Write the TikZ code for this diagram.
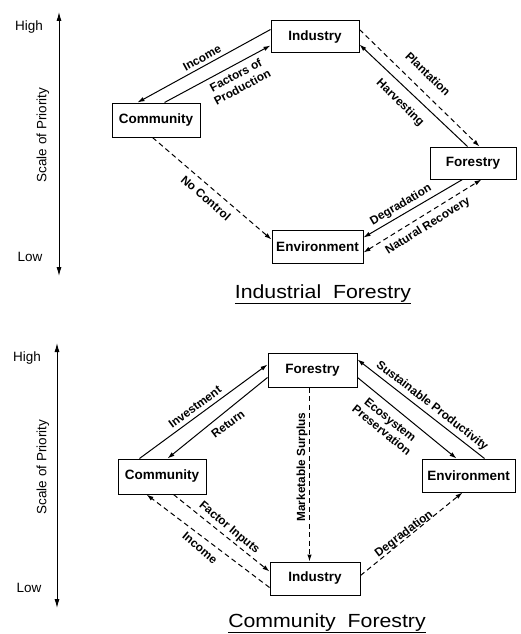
\documentclass[tikz,border=0pt]{standalone}
\usepackage{fontspec}
\setmainfont{Liberation Sans}
\usepackage{graphicx}
\usetikzlibrary{arrows.meta,calc}
\begin{document}
\begin{tikzpicture}[x=1pt,y=-1pt,
 box/.style={draw,line width=1pt,inner sep=0pt,font=\fontsize{13.5}{15}\selectfont\bfseries},
 link/.style={line width=1pt,-{Latex[length=7pt,width=4.5pt]}},
 dlink/.style={link,dash pattern=on 5pt off 3.5pt},
 lbl/.style={font=\fontsize{11.8}{13.5}\selectfont\bfseries,align=center,inner sep=0pt},
 axis/.style={line width=1pt,{Latex[length=9pt,width=5pt]}-{Latex[length=9pt,width=5pt]}},
 axlbl/.style={font=\fontsize{13.5}{15}\selectfont,inner sep=0pt},
 ttl/.style={font=\fontsize{19}{22}\selectfont,inner sep=0pt,anchor=base}]

\useasboundingbox (0,0) rectangle (520,634);
\fill[white] (0,0) rectangle (520,634);

% ---------- top diagram ----------
\coordinate (ta) at (59,12); \coordinate (tb) at (59,276);
\draw[axis] (ta) -- (tb);
\node[axlbl] (th) at (29,27) {High};
\node[axlbl] (tl) at (30,257) {Low};
\node[axlbl,rotate=90] (ts) at (43,135) {Scale of Priority};

\node[box,minimum width=88pt,minimum height=32pt] (ind) at (315,37) {Industry};
\node[box,minimum width=88pt,minimum height=34pt] (com) at (156,120) {Community};
\node[box,minimum width=86pt,minimum height=32pt] (for) at (473,163) {Forestry};
\node[box,minimum width=91pt,minimum height=33pt] (env) at (317.5,246.5) {Environment};

\draw[link] ($(ind.north west)+(0,9)$) -- ($(com.north west)+(26,0)$);
\draw[link] ($(com.north west)+(53,0)$) -- ($(ind.north west)+(0,25)$);
\draw[dlink] ($(ind.north east)+(0,9)$) -- ($(for.north west)+(50,0)$);
\draw[link] ($(for.north west)+(38,0)$) -- ($(ind.north east)+(0,24)$);
\draw[link] ($(for.south west)+(33,0)$) -- ($(env.north east)+(0,8)$);
\draw[dlink,{Latex[length=7pt,width=4.5pt]}-{Latex[length=7pt,width=4.5pt]}] ($(env.north east)+(0,23)$) -- ($(for.south west)+(52,0)$);
\draw[dlink] ($(com.south west)+(41,0)$) -- ($(env.north west)+(0,10)$);

\node[lbl,rotate=28.6] (l1) at (202,58) {Income};
\node[lbl,rotate=28.3] (l2) at (239,81) {Factors of\\Production};
\node[lbl,rotate=-44] (l3) at (428,74) {Plantation};
\node[lbl,rotate=-44] (l4) at (400,103) {Harvesting};
\node[lbl,rotate=30.5] (l5) at (401,205) {Degradation};
\node[lbl,rotate=32] (l6) at (428,226) {Natural Recovery};
\node[lbl,rotate=-41] (l7) at (206,198) {No Control};

\node[ttl] (t1) at (323,298) {\scalebox{1.12}[1]{\underline{Industrial\ \ Forestry}}};

% ---------- bottom diagram ----------
\coordinate (ba) at (57,343); \coordinate (bb) at (57,608);
\draw[axis] (ba) -- (bb);
\node[axlbl] (bh) at (27,358) {High};
\node[axlbl] (bl) at (29,588) {Low};
\node[axlbl,rotate=90] (bs) at (43,467) {Scale of Priority};

\node[box,minimum width=89pt,minimum height=34pt] (for2) at (312.5,370) {Forestry};
\node[box,minimum width=88pt,minimum height=35pt] (com2) at (162,476.5) {Community};
\node[box,minimum width=93pt,minimum height=33pt] (env2) at (468.5,475.5) {Environment};
\node[box,minimum width=90pt,minimum height=33pt] (ind2) at (315,578.5) {Industry};

\draw[link] ($(com2.north west)+(22,0)$) -- ($(for2.north west)+(0,12)$);
\draw[link] ($(for2.north west)+(0,25)$) -- ($(com2.north west)+(50,0)$);
\draw[link] ($(env2.north west)+(63,0)$) -- ($(for2.north east)+(0,7)$);
\draw[link] ($(for2.north east)+(0,25)$) -- ($(env2.north west)+(35,0)$);
\draw[dlink] ($(for2.south west)+(42,0)$) -- ($(ind2.north west)+(40,0)$);
\draw[dlink] ($(com2.south west)+(56,0)$) -- ($(ind2.north west)+(0,10)$);
\draw[dlink] ($(ind2.north west)+(0,26)$) -- ($(com2.south west)+(29,0)$);
\draw[dlink] ($(ind2.north east)+(0,14)$) -- ($(env2.south west)+(41,0)$);

\node[lbl,rotate=36.6] (m1) at (195,407) {Investment};
\node[lbl,rotate=37] (m2) at (228,424) {Return};
\node[lbl,rotate=-37.7] (m3) at (432,406) {Sustainable Productivity};
\node[lbl,rotate=-39] (m4) at (386,425) {Ecosystem\\Preservation};
\node[lbl,rotate=90] (m5) at (302,467) {Marketable Surplus};
\node[lbl,rotate=-40] (m6) at (229,528) {Factor Inputs};
\node[lbl,rotate=-40] (m7) at (200,548) {Income};
\node[lbl,rotate=37] (m8) at (404,534) {Degradation};

\node[ttl] (t2) at (327,627) {\scalebox{1.12}[1]{\underline{Community\ \ Forestry}}};
\end{tikzpicture}
\end{document}
